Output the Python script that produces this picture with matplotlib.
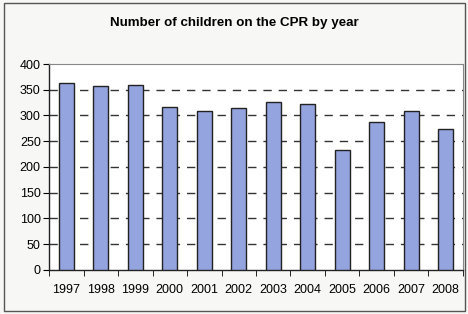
import numpy as np
import matplotlib.pyplot as plt
from matplotlib.patches import Rectangle

plt.rcParams['font.family'] = ['Liberation Sans', 'DejaVu Sans']

years = ["1997", "1998", "1999", "2000", "2001", "2002",
         "2003", "2004", "2005", "2006", "2007", "2008"]
children = [363, 358, 360, 316, 308, 315, 327, 323, 232, 288, 309, 273]
y_ticks = [0, 50, 100, 150, 200, 250, 300, 350, 400]

fig = plt.figure(figsize=(4.68, 3.14), dpi=100)
fig.patch.set_facecolor("#f7f7f5")
fig.patches.append(Rectangle((0.008, 0.008), 0.986, 0.982, transform=fig.transFigure,
                             fill=False, edgecolor="#555555", linewidth=1.0))

ax = fig.add_axes([0.105, 0.141, 0.884, 0.655])
ax.set_facecolor("white")
x = np.arange(len(years))
ax.bar(x, children, width=0.43, color="#94a4de", edgecolor="#222222", linewidth=1.0, zorder=3)

ax.set_xlim(-0.5, len(years) - 0.5)
ax.set_ylim(0, 400)
ax.set_yticks(y_ticks)
ax.tick_params(axis="y", labelsize=9, length=4, direction="out", pad=2)
ax.set_xticks(x)
ax.set_xticklabels(years)
ax.tick_params(axis="x", labelsize=9, length=0, pad=10)
ax.set_xticks(np.arange(-0.5, len(years)), minor=True)
ax.tick_params(axis="x", which="minor", length=4, direction="out")

for v in y_ticks[1:-1]:
    ax.axhline(v, color="#333333", linewidth=1.0, linestyle=(0, (6, 5)), zorder=1)

for s in ["top", "right"]:
    ax.spines[s].set_color("#888888")
    ax.spines[s].set_linewidth(0.8)
for s in ["left", "bottom"]:
    ax.spines[s].set_color("#222222")
    ax.spines[s].set_linewidth(1.0)

fig.text(0.5, 0.926, "Number of children on the CPR by year", ha="center", va="center",
         fontsize=9.6, fontweight="bold")

plt.savefig("out.png", dpi=100, facecolor=fig.get_facecolor())
